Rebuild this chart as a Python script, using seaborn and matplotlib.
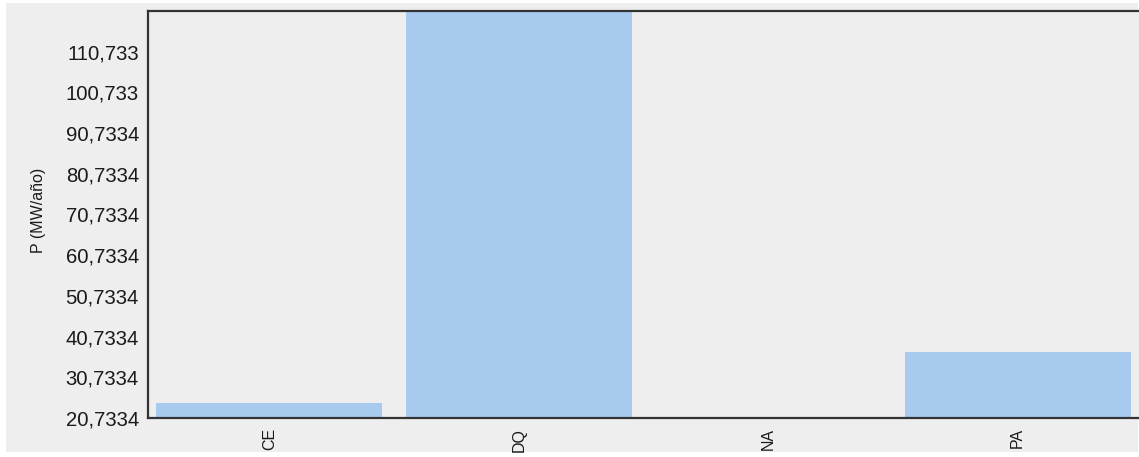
import matplotlib
matplotlib.use("Agg")
import matplotlib.pyplot as plt
import seaborn as sns
import pandas as pd
from matplotlib.patches import Rectangle

categories = ["CE", "DQ", "NA", "PA"]
values = [24.3, 120.7334, 20.7334, 36.9]
ytick_values = [20.7334, 30.7334, 40.7334, 50.7334, 60.7334, 70.7334,
                80.7334, 90.7334, 100.7334, 110.7334]
ytick_labels = ["20,7334", "30,7334", "40,7334", "50,7334", "60,7334",
                "70,7334", "80,7334", "90,7334", "100,733", "110,733"]
y_label = "P (MW/año)"

sns.set_theme(style="white")
plt.rcParams['font.family'] = ['Liberation Sans', 'DejaVu Sans']

W, H = 1139, 457
fig = plt.figure(figsize=(W / 100, H / 100), dpi=100, facecolor="white")
bg = Rectangle((6 / W, 1 - 452 / H), (1138 - 6) / W, (452 - 3) / H,
               transform=fig.transFigure, facecolor="#EEEEEE",
               edgecolor="none", zorder=-10)
fig.add_artist(bg)

ax = fig.add_axes([148 / W, 1 - 418 / H, (1139 - 148) / W, (418 - 11) / H])
ax.set_zorder(5)
ax.set_facecolor("#EEEEEE")

df = pd.DataFrame({"cat": categories, "val": values})
sns.barplot(data=df, x="cat", y="val", color="#A8CAEF", saturation=1,
            width=0.906, ax=ax)

ax.set_xlim(-0.486, 3.486)
ax.set_ylim(ytick_values[0], ytick_values[0] + 100)
ax.set_yticks(ytick_values)
ax.set_yticklabels(ytick_labels, fontsize=14.6, color="#1a1a1a")
ax.tick_params(axis="y", length=0, pad=6.5)
ax.tick_params(axis="x", length=0, pad=7, labelsize=11.5, labelcolor="#1a1a1a")
for lab in ax.get_xticklabels():
    lab.set_rotation(90)
ax.set_xlabel("")
ax.set_ylabel(y_label, fontsize=11.5, color="#1a1a1a")
ax.yaxis.set_label_coords(-0.103, 0.51)

for side in ["left", "top", "bottom"]:
    ax.spines[side].set_visible(True)
    ax.spines[side].set_color("#333333")
    ax.spines[side].set_linewidth(1.6)
ax.spines["right"].set_visible(False)
for p in ax.patches:
    p.set_edgecolor("none")

fig.savefig("out.png", dpi=100, facecolor="white")
